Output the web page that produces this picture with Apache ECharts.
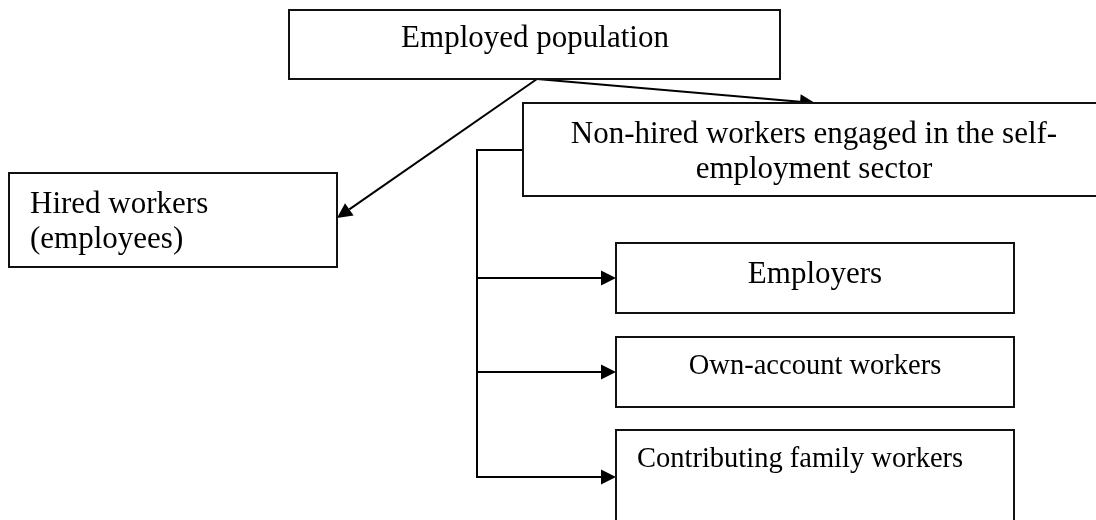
<!DOCTYPE html>
<html>
<head>
    <meta charset="utf-8">
    <script src="https://cdn.jsdelivr.net/npm/echarts@6/dist/echarts.min.js"></script>
    <style>
        html, body { margin: 0; padding: 0; background: #fff; }
        #container { width: 1096px; height: 520px; }
    </style>
</head>
<body>
    <div id="container"></div>
    <script type="text/javascript">
        // box texts
        var boxLabels = [
            'Employed population',
            'Non-hired workers engaged in the self-\nemployment sector',
            'Hired workers\n(employees)',
            'Employers',
            'Own-account workers',
            'Contributing family workers'
        ];
        // box frames [x0, y0, x1, y1] in diagram units
        var boxFrames = [
            [289, 10, 780, 79],
            [523, 103, 1112, 196],
            [9, 173, 337, 267],
            [616, 243, 1014, 313],
            [616, 337, 1014, 407],
            [616, 430, 1014, 540]
        ];
        // where the text sits [x, y, align]
        var textAnchors = [
            [535, 39, 'center'],
            [814, 152, 'center'],
            [30, 222, 'left'],
            [815, 275, 'center'],
            [815, 367, 'center'],
            [637, 460, 'left']
        ];
        var fontSizes = [31, 31, 31, 31, 28.5, 28.5];

        // connectors: polyline points, arrow at the last point
        var connectors = [
            [[537, 79], [337, 218]],
            [[537, 79], [815, 103]],
            [[523, 150], [477, 150], [477, 477], [616, 477]],
            [[477, 278], [616, 278]],
            [[477, 372], [616, 372]]
        ];

        var dom = document.getElementById('container');
        var myChart = echarts.init(dom, null, { renderer: 'canvas' });

        function renderBox(params, api) {
            var i = params.dataIndex;
            var f = boxFrames[i];
            var p0 = api.coord([f[0], f[1]]);
            var p1 = api.coord([f[2], f[3]]);
            var t = textAnchors[i];
            var tp = api.coord([t[0], t[1]]);
            return {
                type: 'group',
                children: [{
                    type: 'rect',
                    shape: { x: p0[0], y: p0[1], width: p1[0] - p0[0], height: p1[1] - p0[1] },
                    style: { fill: '#fff', stroke: '#111', lineWidth: 2 }
                }, {
                    type: 'text',
                    x: tp[0],
                    y: tp[1],
                    style: {
                        text: boxLabels[i],
                        fill: '#000',
                        font: fontSizes[i] + 'px "Liberation Serif", "Times New Roman", serif',
                        align: t[2],
                        verticalAlign: 'middle',
                        lineHeight: 35
                    }
                }]
            };
        }

        function renderConnector(params, api) {
            var pts = connectors[params.dataIndex].map(function (p) { return api.coord(p); });
            var a = pts[pts.length - 2], b = pts[pts.length - 1];
            var dx = b[0] - a[0], dy = b[1] - a[1];
            var len = Math.sqrt(dx * dx + dy * dy);
            var ux = dx / len, uy = dy / len;
            var hl = 15, hw = 7.5;
            var base = [b[0] - ux * hl, b[1] - uy * hl];
            var lineEnd = pts.slice(0, pts.length - 1).concat([base]);
            return {
                type: 'group',
                children: [{
                    type: 'polyline',
                    shape: { points: lineEnd },
                    style: { stroke: '#000', lineWidth: 2, fill: null }
                }, {
                    type: 'polygon',
                    shape: {
                        points: [
                            b,
                            [base[0] - uy * hw, base[1] + ux * hw],
                            [base[0] + uy * hw, base[1] - ux * hw]
                        ]
                    },
                    style: { fill: '#000' }
                }]
            };
        }

        var option = {
            animation: false,
            backgroundColor: '#fff',
            grid: { left: 0, right: 0, top: 0, bottom: 0 },
            xAxis: { type: 'value', min: 0, max: 1096, show: false },
            yAxis: { type: 'value', min: 0, max: 520, inverse: true, show: false },
            series: [{
                type: 'custom',
                name: 'connectors',
                renderItem: renderConnector,
                data: connectors.map(function (c, i) { return [i]; }),
                z: 1
            }, {
                type: 'custom',
                name: 'boxes',
                renderItem: renderBox,
                data: boxLabels.map(function (b, i) { return [i]; }),
                z: 2
            }]
        };
        myChart.setOption(option);
    </script>
</body>
</html>
